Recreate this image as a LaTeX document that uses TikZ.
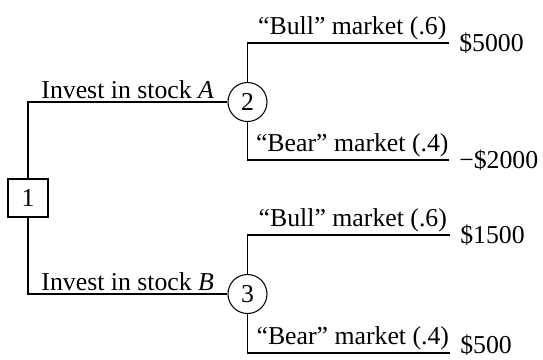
\documentclass[tikz,border=0pt]{standalone}
\usepackage{fontspec}
\setmainfont{Liberation Serif}
\usepackage{tikz}
\usetikzlibrary{positioning}

\begin{document}
\begin{tikzpicture}[x=0.3cm, y=-0.3cm, line width=0.9pt,
  every node/.style={font=\fontsize{22}{26}\selectfont},
  decision/.style={draw, rectangle, minimum width=1.2cm, minimum height=1.14cm, inner sep=0pt},
  chance/.style={draw, circle, minimum size=1.17cm, inner sep=0pt},
  branch/.style={above, inner sep=2pt}]
\useasboundingbox (0,0) rectangle (54.3,36);

% decision and chance nodes
\node[decision] (n1) at (2.8,19.8) {1};
\node[chance] (n2) at (24.75,10.2) {2};
\node[chance] (n3) at (24.75,29.4) {3};

% ends of the outcome branches
\coordinate (a1) at (44.9,4.3);
\coordinate (a2) at (44.9,16.0);
\coordinate (b1) at (45.0,23.5);
\coordinate (b2) at (45.0,35.3);

% payoffs
\node[right=5pt of a1] (pa1) {\$5000};
\node[right=5pt of a2] (pa2) {−\$2000};
\node[right=5pt of b1] (pb1) {\$1500};
\node[right=5pt of b2, yshift=7pt] (pb2) {\$500};

% branches
\draw (n1) |- node[branch, pos=0.75] {Invest in stock \textit{A}} (n2);
\draw (n1) |- node[branch, pos=0.75] {Invest in stock \textit{B}} (n3);
\draw (n2) |- node[branch, pos=0.76] {“Bull” market (.6)} (a1);
\draw (n2) |- node[branch, pos=0.76] {“Bear” market (.4)} (a2);
\draw (n3) |- node[branch, pos=0.76] {“Bull” market (.6)} (b1);
\draw (n3) |- node[branch, pos=0.76] {“Bear” market (.4)} (b2);
\end{tikzpicture}
\end{document}
